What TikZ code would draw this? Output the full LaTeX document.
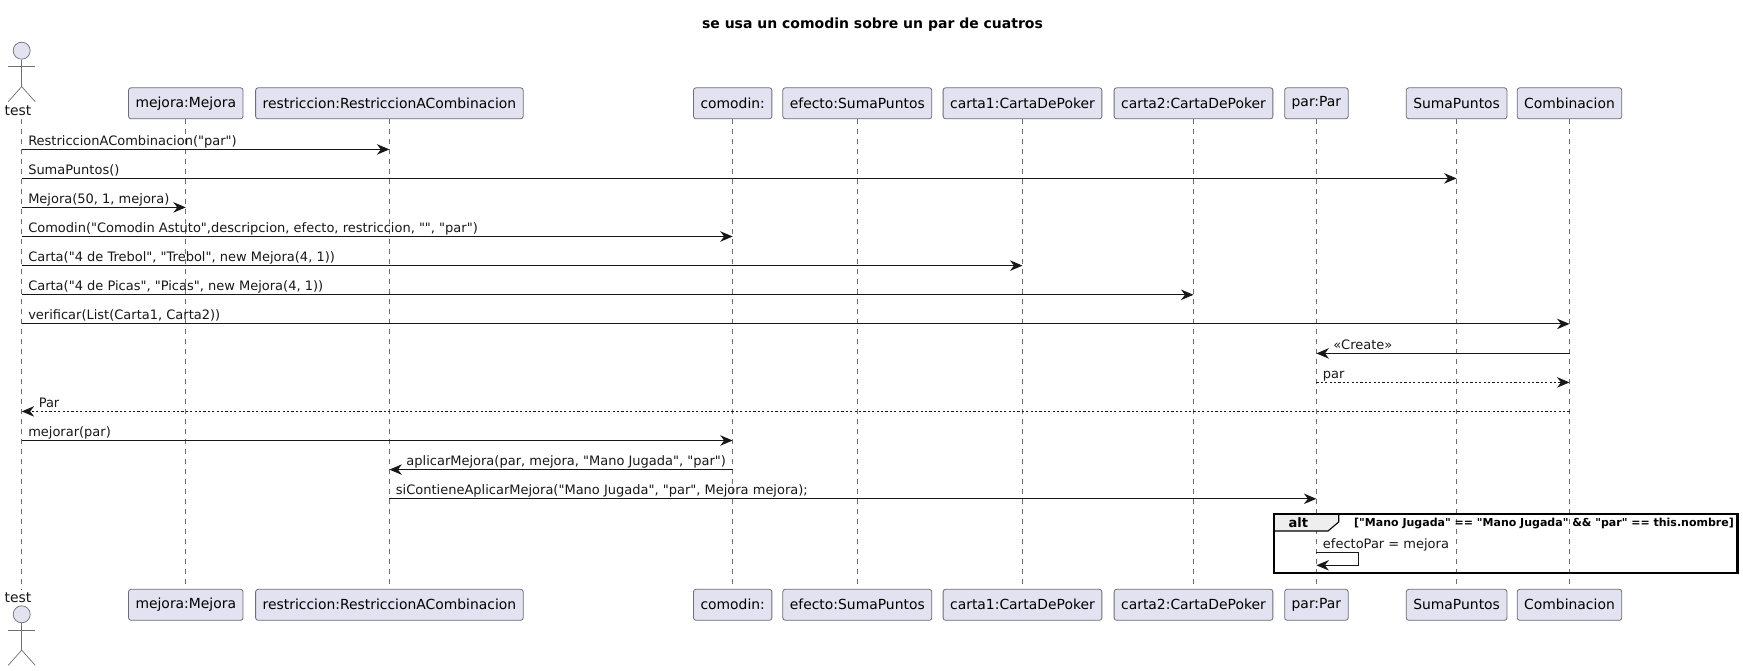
\documentclass[tikz,border=0pt]{standalone}
\usepackage{fontspec}
\setmainfont{DejaVu Sans}[Ligatures=TeXOff]
\usepackage{xcolor}
\usetikzlibrary{arrows.meta}
\definecolor{boxfill}{HTML}{E2E2F0}
\definecolor{boxline}{HTML}{6E6E78}
\definecolor{tipline}{HTML}{181818}
\definecolor{tabfill}{HTML}{EEEEEE}

\begin{document}
\begin{tikzpicture}[x=1pt,y=-1pt,>={Stealth[length=12.5pt,width=10.5pt,inset=4pt]},
    part node/.style={draw=boxline,fill=boxfill,line width=0.8pt,rounded corners=2.5pt,inner xsep=7pt,inner ysep=0pt,minimum height=31pt,font=\fontsize{13.9}{17}\selectfont},
    lifeline/.style={color=boxline,line width=0.7pt,dash pattern=on 5pt off 5pt},
    actor line/.style={draw=boxline,line width=0.7pt},
    msg/.style={->,color=tipline,line width=1.1pt},
    reply/.style={msg,dash pattern=on 2.2pt off 2.2pt},
    lbl/.style={anchor=base west,inner sep=0pt,yshift=4pt,text=tipline,font=\fontsize{13}{16}\selectfont},
    lbl right/.style={lbl,xshift=6pt,pos=0},
    lbl left/.style={lbl,xshift=16.5pt,pos=1},
    caption/.style={inner sep=0pt,text=tipline,font=\fontsize{13.9}{17}\selectfont}]
    \useasboundingbox (0,0) rectangle (1743,670);
    \fill[white] (0,0) rectangle (1743,670);

    % title
    \node[caption,text=black,font=\fontsize{14}{17}\selectfont\bfseries] (title) at (872.5,24.5) {se usa un comodin sobre un par de cuatros};

    % participants, top row
    \node[part node] (mejora) at (185.8,103.3) {mejora:Mejora};
    \node[part node] (restriccion) [right of=mejora,node distance=203.6pt] {restriccion:RestriccionACombinacion};
    \node[part node] (comodin) [right of=restriccion,node distance=343.3pt] {comodin:};
    \node[part node] (efecto) [right of=comodin,node distance=124.6pt] {efecto:SumaPuntos};
    \node[part node] (carta1) [right of=efecto,node distance=165.2pt] {carta1:CartaDePoker};
    \node[part node] (carta2) [right of=carta1,node distance=171pt] {carta2:CartaDePoker};
    \node[part node] (par) [right of=carta2,node distance=122.9pt] {par:Par};
    \node[part node] (suma) [right of=par,node distance=140.2pt] {SumaPuntos};
    \node[part node] (combinacion) [right of=suma,node distance=112.9pt] {Combinacion};

    % participants, bottom row
    \foreach \n/\t in {mejora/mejora:Mejora,restriccion/restriccion:RestriccionACombinacion,comodin/comodin:,efecto/efecto:SumaPuntos,carta1/carta1:CartaDePoker,carta2/carta2:CartaDePoker,par/par:Par,suma/SumaPuntos,combinacion/Combinacion}
        \node[part node] (\n b) [below of=\n,node distance=501.5pt] {\t};

    % actor, top and bottom
    \foreach \n/\y/\ty in {a/50.7/110.5,b/614.3/598}{
        \node[circle,draw=boxline,fill=boxfill,line width=0.7pt,minimum size=17pt,inner sep=0pt] (head\n) at (21.7,\y) {};
        \node[caption] (test\n) at (18,\ty) {test};
        \draw[actor line] (head\n.south) -- ++(0,27) coordinate (hip\n);
        \draw[actor line] (8.2,\y+16) -- (35.2,\y+16);
        \draw[actor line] (8.2,\y+51) -- (hip\n) -- (35.2,\y+51);
    }
    \coordinate (test) at (21.7,119);
    \coordinate (testb) at (21.7,590);

    % lifelines
    \path[lifeline]
        (test) edge (testb)
        (mejora) edge (mejorab)
        (restriccion) edge (restriccionb)
        (comodin) edge (comodinb)
        (efecto) edge (efectob)
        (carta1) edge (carta1b)
        (carta2) edge (carta2b)
        (par) edge (parb)
        (suma) edge (sumab)
        (combinacion) edge (combinacionb)
        ;

    % ends of the messages, on the lifelines
    \foreach \i/\from/\to/\y in {1/test/restriccion/149.4,2/test/suma/178.4,3/test/mejora/207.4,4/test/comodin/236.5,5/test/carta1/265.6,6/test/carta2/294.8,7/test/combinacion/323.9,8/combinacion/par/353.4,9/par/combinacion/382.4,10/combinacion/test/411.4,11/test/comodin/440.5,12/comodin/restriccion/469.6,13/restriccion/par/498.8}{
        \coordinate (s\i) at (\from |- 0,\y);
        \coordinate (e\i) at (\to |- 0,\y);
    }

    \path[msg]
        (s1) edge node[lbl right] {RestriccionACombinacion("par")} (e1)
        (s2) edge node[lbl right] {SumaPuntos()} (e2)
        (s3) edge node[lbl right] {Mejora(50, 1, mejora)} (e3)
        (s4) edge node[lbl right] {Comodin("Comodin Astuto",descripcion, efecto, restriccion, "", "par")} (e4)
        (s5) edge node[lbl right] {Carta("4 de Trebol", "Trebol", new Mejora(4, 1))} (e5)
        (s6) edge node[lbl right] {Carta("4 de Picas", "Picas", new Mejora(4, 1))} (e6)
        (s7) edge node[lbl right] {verificar(List(Carta1, Carta2))} (e7)
        (s8) edge node[lbl left] {«Create»} (e8)
        (s11) edge node[lbl right] {mejorar(par)} (e11)
        (s12) edge node[lbl left] {aplicarMejora(par, mejora, "Mano Jugada", "par")} (e12)
        (s13) edge node[lbl right] {siContieneAplicarMejora("Mano Jugada", "par", Mejora mejora);} (e13)
        ;
    \path[reply]
        (s9) edge node[lbl right] {par} (e9)
        (s10) edge node[lbl left] {Par} (e10)
        ;

    % alt frame
    \coordinate (self1) at (par |- 0,552.3);
    \coordinate (self2) at (1358.7,552.3);
    \coordinate (self3) at (1358.7,565.3);
    \coordinate (self4) at (par |- 0,565.3);
    \draw[fill=tabfill,line width=1.1pt] (1274.3,514.3) -- (1338.7,514.3) -- (1338.7,522) -- (1328,531) -- (1274.3,531) -- cycle;
    \draw[line width=2.2pt] (1274.3,514.3) rectangle (1737.5,573);
    \node[inner sep=0pt,font=\fontsize{13}{16}\selectfont\bfseries] (alt) at (1298.3,523) {alt};
    \node[anchor=west,inner sep=0pt,font=\fontsize{11}{14}\selectfont\bfseries] (guard) at (1354,523) {["Mano Jugada" == "Mano Jugada" \&\& "par" == this.nombre]};
    \draw[msg] (self1) -- node[lbl right] {efectoPar = mejora} (self2) -- (self3) -- (self4);
\end{tikzpicture}
\end{document}
